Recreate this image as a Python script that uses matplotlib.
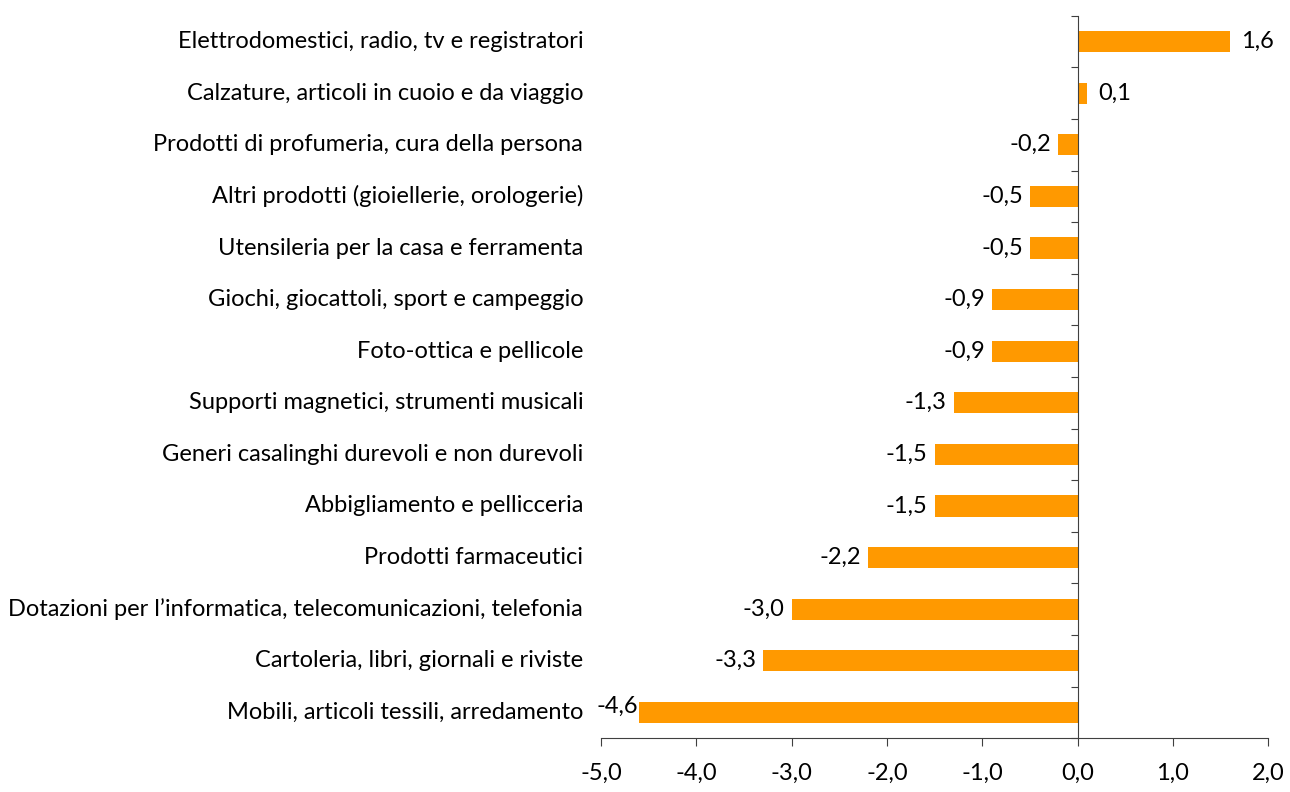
import matplotlib.pyplot as plt
import numpy as np

# categories from bottom to top
categories = [
    "Mobili, articoli tessili, arredamento",
    "Cartoleria, libri, giornali e riviste",
    "Dotazioni per l\u2019informatica, telecomunicazioni, telefonia",
    "Prodotti farmaceutici",
    "Abbigliamento e pellicceria",
    "Generi casalinghi durevoli e non durevoli",
    "Supporti magnetici, strumenti musicali",
    "Foto-ottica e pellicole",
    "Giochi, giocattoli, sport e campeggio",
    "Utensileria per la casa e ferramenta",
    "Altri prodotti (gioiellerie, orologerie)",
    "Prodotti di profumeria, cura della persona",
    "Calzature, articoli in cuoio e da viaggio",
    "Elettrodomestici, radio, tv e registratori",
]
values = [-4.6, -3.3, -3.0, -2.2, -1.5, -1.5, -1.3, -0.9, -0.9, -0.5, -0.5, -0.2, 0.1, 1.6]
x_ticks = [-5, -4, -3, -2, -1, 0, 1, 2]

plt.rcParams['font.family'] = ['Lato', 'DejaVu Sans']

fig = plt.figure(figsize=(12.9, 7.92), dpi=100)
ax = fig.add_axes([0.466, 0.068, 0.517, 0.912])

y = np.arange(len(categories))
ax.barh(y, values, height=0.41, color="#FF9900", zorder=2)

# value labels
for i, v in enumerate(values):
    txt = f"{v:.1f}".replace(".", ",")
    if v >= 0:
        ax.annotate(txt, (v, i), xytext=(8, 0), textcoords="offset points",
                    ha="left", va="center", fontsize=17)
    elif i == 0:
        # this one sits a little higher in the original
        ax.annotate(txt, (v, i), xytext=(-1, 4), textcoords="offset points",
                    ha="right", va="center", fontsize=17)
    else:
        ax.annotate(txt, (v, i), xytext=(-5, 0), textcoords="offset points",
                    ha="right", va="center", fontsize=17)

ax.set_xlim(-5, 2)
ax.set_ylim(-0.5, len(categories) - 0.5)

# y axis drawn at zero
ax.spines['left'].set_position(('data', 0))
ax.spines['right'].set_visible(False)
ax.spines['top'].set_visible(False)
ax.spines['left'].set_color("#404040")
ax.spines['bottom'].set_color("#404040")

ax.set_yticks(np.arange(-0.5, len(categories), 1))
ax.set_yticklabels([])
ax.tick_params(axis='y', direction='out', length=5, color="#404040")

# category labels on the far left
for i, c in enumerate(categories):
    ax.text(-0.027, i, c, transform=ax.get_yaxis_transform(), ha="right",
            va="center", fontsize=17, color="black")

ax.set_xticks(x_ticks)
ax.set_xticklabels([f"{t:.1f}".replace(".", ",") for t in x_ticks], fontsize=17)
ax.tick_params(axis='x', direction='out', length=6, pad=12, color="#404040")

plt.savefig("out.png", dpi=100)
